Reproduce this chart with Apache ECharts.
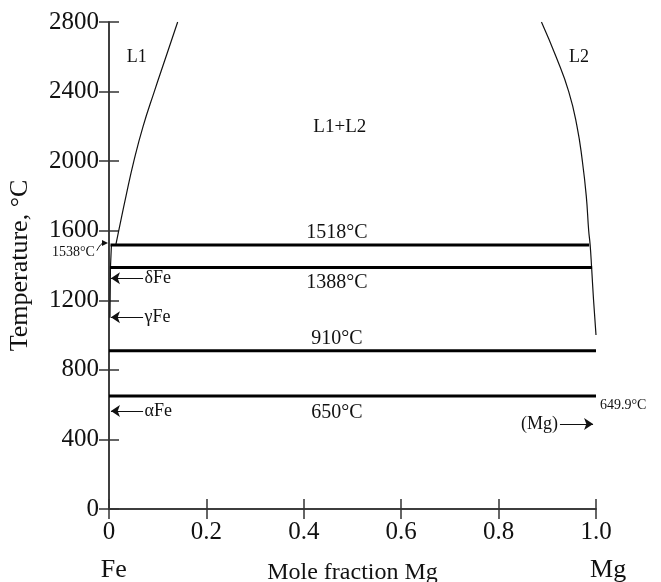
<!DOCTYPE html>
<html>
<head>
<meta charset="utf-8">
<script src="https://cdn.jsdelivr.net/npm/echarts@6/dist/echarts.min.js"></script>
<style>
	html, body { margin: 0; padding: 0; background: #fff; }
	#chart { width: 661px; height: 582px; }
</style>
</head>
<body>
<div id="chart"></div>
<script>
// Fe-Mg phase diagram
var xMin = 0, xMax = 1.0, xStep = 0.2;
var yMin = 0, yMax = 2800, yStep = 400;

// liquidus curves (mole fraction Mg, temperature)
var liqFe = [[0.014, 1518], [0.020, 1600], [0.035, 1800], [0.051, 2000], [0.070, 2200], [0.093, 2400], [0.117, 2600], [0.141, 2800]];
var liqMg = [[0.888, 2800], [0.918, 2600], [0.944, 2400], [0.961, 2200], [0.972, 2000], [0.980, 1800], [0.985, 1600], [0.988, 1518], [0.991, 1388], [0.995, 1200], [1.0, 1000]];
var solFe = [[0.005, 1518], [0.003, 1388], [0.002, 1100]];

// invariant lines
var isoT = [1518, 1388, 910, 650];
var isoFrom = [0.003, 0.002, 0, 0];
var isoTo = [0.986, 0.992, 1.0, 1.0];
var isoLabels = ['1518°C', '1388°C', '910°C', '650°C'];
var isoLabelT = [1586, 1299, 977, 552];

// phase fields
var phaseNames = ['L1', 'L2', 'L1+L2'];
var phaseX = [0.057, 0.965, 0.474];
var phaseT = [2598, 2598, 2195];

// Fe-side arrows
var feNames = ['δFe', 'γFe', 'αFe'];
var feT = [1327, 1103, 563];

let chart = echarts.init(document.getElementById('chart'));
let font = 'Liberation Serif, Times New Roman, serif';
let ink = '#111';

let series = [];
series.push({ type: 'line', data: liqFe, smooth: 0.5, showSymbol: false, symbol: 'none', lineStyle: { color: ink, width: 1.2 } });
series.push({ type: 'line', data: liqMg, smooth: 0.5, showSymbol: false, symbol: 'none', lineStyle: { color: ink, width: 1.2 } });
let arrows = [];
for (var i = 0; i < feNames.length; i++) {
	arrows.push([{ coord: [0.07, feT[i]] }, { coord: [0.004, feT[i]] }]);
}
arrows.push([{ coord: [0.926, 488] }, { coord: [0.994, 488] }]);
series.push({
	type: 'line', data: solFe, showSymbol: false, symbol: 'none',
	lineStyle: { color: ink, width: 1.2 },
	markLine: {
		silent: true,
		symbol: ['none', 'arrow'],
		symbolSize: 9,
		label: { show: false },
		lineStyle: { color: ink, width: 1, type: 'solid' },
		data: arrows
	}
});
for (var i = 0; i < isoT.length; i++) {
	series.push({
		type: 'line',
		data: [[isoFrom[i], isoT[i]], [isoTo[i], isoT[i]]],
		showSymbol: false, symbol: 'none',
		lineStyle: { color: '#000', width: 3 }
	});
}

let option = {
	animation: false,
	grid: { left: 109, top: 22, right: 65, bottom: 73, outerBoundsMode: 'none', containLabel: false },
	xAxis: [{
		type: 'value', min: xMin, max: xMax, interval: xStep,
		name: 'Mole fraction Mg', nameLocation: 'middle', nameGap: 52,
		nameTextStyle: { fontFamily: font, fontSize: 24, color: ink },
		axisLine: { lineStyle: { color: '#333', width: 1.5 } },
		axisTick: { inside: true, length: 10, lineStyle: { color: '#333', width: 1.5 } },
		axisLabel: {
			fontFamily: font, fontSize: 25, color: ink, margin: 11,
			formatter: function(v) { return v === 0 ? '0' : v.toFixed(1); }
		},
		splitLine: { show: false }
	}, {
		type: 'value', min: xMin, max: xMax, interval: xStep, position: 'top',
		axisLine: { lineStyle: { color: '#333', width: 1.5 } },
		axisTick: { inside: true, length: 10, lineStyle: { color: '#333', width: 1.5 } },
		axisLabel: { show: false },
		splitLine: { show: false }
	}],
	yAxis: [{
		type: 'value', min: yMin, max: yMax, interval: yStep,
		name: 'Temperature, °C', nameLocation: 'middle', nameGap: 76,
		nameTextStyle: { fontFamily: font, fontSize: 26, color: ink },
		axisLine: { lineStyle: { color: '#333', width: 1.5 } },
		axisTick: { inside: true, length: 10, lineStyle: { color: '#333', width: 1.5 } },
		axisLabel: {
			fontFamily: font, fontSize: 25, color: ink, margin: 10,
			formatter: function(v) { return String(v); }
		},
		splitLine: { show: false }
	}, {
		type: 'value', min: yMin, max: yMax, interval: yStep, position: 'right',
		axisLine: { lineStyle: { color: '#333', width: 1.5 } },
		axisTick: { inside: true, length: 10, lineStyle: { color: '#333', width: 1.5 } },
		axisLabel: { show: false },
		splitLine: { show: false }
	}],
	series: series
};
chart.setOption(option);

// text annotations placed at data positions
function px(x, t) {
	return chart.convertToPixel({ gridIndex: 0 }, [x, t]);
}
function txt(x, t, s, size, align) {
	let p = px(x, t);
	return {
		type: 'text', x: p[0], y: p[1], silent: true,
		style: { text: s, fontFamily: font, fontSize: size, fill: ink, align: align || 'center', verticalAlign: 'middle' }
	};
}
let g = [];
for (var i = 0; i < phaseNames.length; i++) {
	g.push(txt(phaseX[i], phaseT[i], phaseNames[i], i == 2 ? 19 : 18));
}
for (var i = 0; i < isoLabels.length; i++) {
	g.push(txt(0.468, isoLabelT[i], isoLabels[i], 20));
}
for (var i = 0; i < feNames.length; i++) {
	g.push(txt(0.073, feT[i], feNames[i], 18, 'left'));
}
g.push(txt(0.922, 488, '(Mg)', 18, 'right'));
g.push(txt(1.008, 598, '649.9°C', 14, 'left'));
g.push(txt(-0.029, 1478, '1538°C', 14, 'right'));
g.push(txt(0.01, -351, 'Fe', 26));
g.push(txt(1.025, -351, 'Mg', 26));

// small curved arrow from the 1538°C label to the axis
let a0 = px(-0.025, 1485);
let a1 = px(-0.002, 1530);
g.push({
	type: 'bezierCurve', silent: true,
	shape: { x1: a0[0], y1: a0[1], x2: a1[0] - 4, y2: a1[1], cpx1: a0[0] + 4, cpy1: a0[1] - 8 },
	style: { stroke: ink, lineWidth: 1, fill: null }
});
g.push({
	type: 'polygon', silent: true,
	shape: { points: [[a1[0], a1[1]], [a1[0] - 6, a1[1] - 3], [a1[0] - 6, a1[1] + 3]] },
	style: { fill: ink }
});
chart.setOption({ graphic: g });
</script>
</body>
</html>
